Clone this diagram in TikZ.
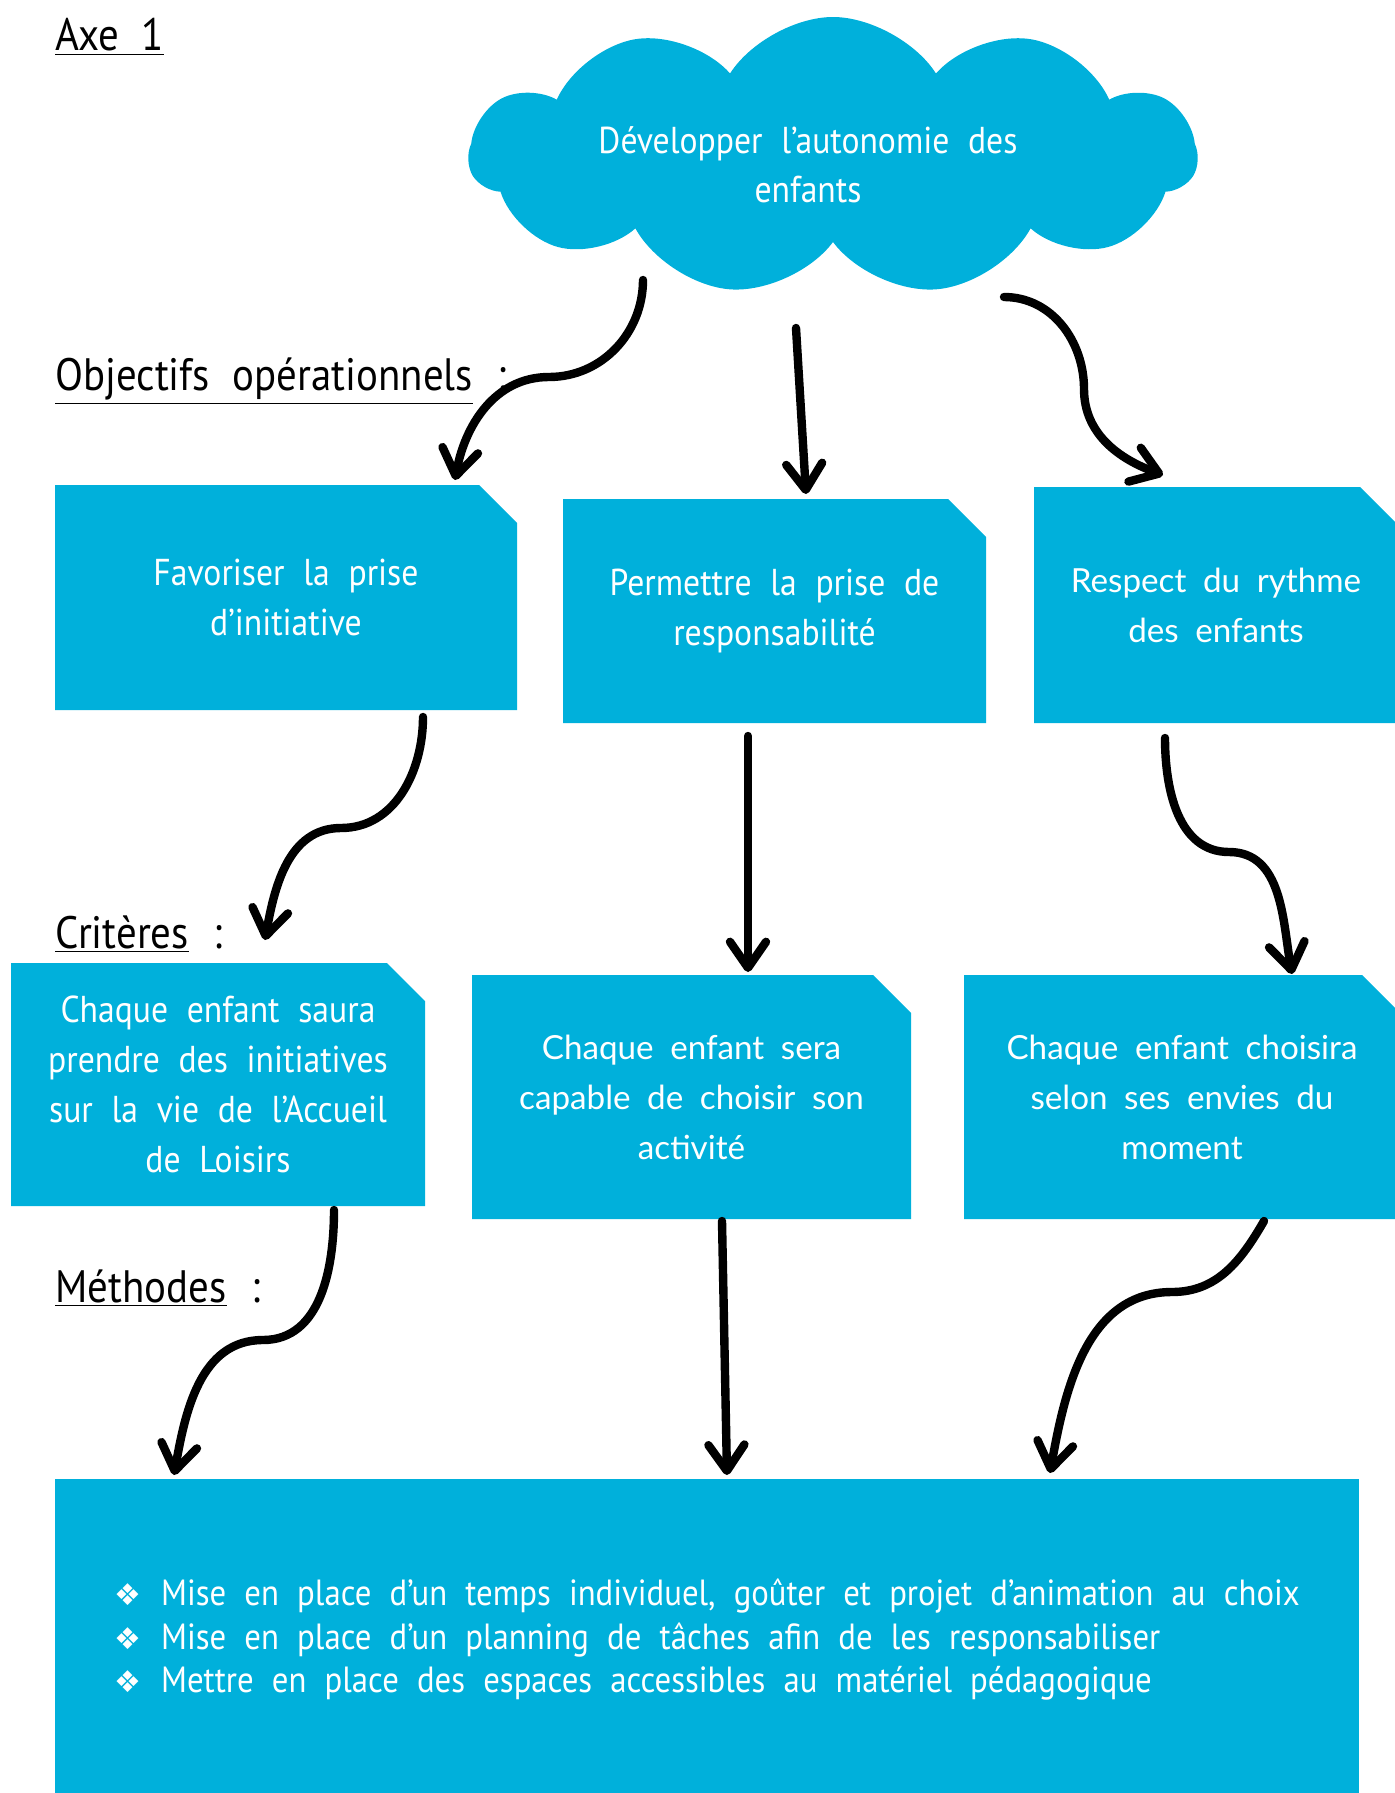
\documentclass[tikz,border=0pt]{standalone}
\usepackage{fontspec}
\setmainfont{PT Sans}
\newfontfamily\etroit{PT Sans}[FakeStretch=0.9]
\newfontfamily\ample{Lato}
\newfontfamily\symboles{DejaVu Sans}
\usepackage{xcolor}
\usepackage{tikz}
\usetikzlibrary{shapes,arrows.meta,positioning,calc}
\definecolor{bleuaxe}{RGB}{0,176,219}
\newcommand\mots{\spaceskip=.5em plus .1em\relax}
\newcommand\puce{{\symboles\fontsize{15}{15}\selectfont ❖}\hspace{10pt}}

\tikzset{
  fleche/.style={line width=4.2pt, line cap=round,
    -{Straight Barb[round,length=13pt,width=18pt]}},
  titre/.style={anchor=west, inner sep=0pt,
    font=\etroit\fontsize{22.7}{27}\selectfont\mots},
  texte/.style={text=white, align=center, inner sep=0pt, outer sep=0pt},
  boite/.style={texte, rectangle,
    font=\etroit\fontsize{18.7}{25}\selectfont\mots,
    path picture={\fill[bleuaxe] (path picture bounding box.south west)
      -- (path picture bounding box.south east)
      -- ([yshift=-19pt]path picture bounding box.north east)
      -- ([xshift=-19pt]path picture bounding box.north east)
      -- (path picture bounding box.north west) -- cycle;}},
  boitelarge/.style={boite, font=\ample\fontsize{16.6}{25}\selectfont\mots},
  nuage/.style={shape=cloud, cloud puffs=11, cloud puff arc=115,
    aspect=2.6, fill=bleuaxe, minimum width=364pt, minimum height=139pt}
}

\begin{document}
\begin{tikzpicture}[x=0.5pt,y=0.5pt]
\useasboundingbox (0,0) rectangle (1394,-1793);
% Titres
\node[titre] (axe) at (55,-37) {\underline{Axe 1}};
\node[titre] (objectifs) at (55,-381) {\underline{Objectifs opérationnels}\hspace{.55em}:};
\node[titre] (criteres) at (55,-934) {\underline{Critères}\hspace{.55em}:};
\node[titre] (methodestitre) at (55,-1288) {\underline{Méthodes}\hspace{.55em}:};
% Objectif general
\node[nuage] (axeun) at (833,-156) {};
\node[texte, font=\etroit\fontsize{18.7}{24.5}\selectfont\mots] (axeuntexte)
  at ($(axeun.center)+(-25,-9)$) {Développer l’autonomie des\\enfants};
% Objectifs operationnels
\node[boite, minimum width=231pt, minimum height=112.5pt] (fav) at (286,-597.5)
  {Favoriser la prise\\d’initiative};
\node[boite, minimum width=211.5pt, minimum height=112pt] (resp) at (774.5,-611)
  {Permettre la prise de\\responsabilité};
\node[boitelarge, minimum width=182pt, minimum height=118pt] (rythme) at (1216,-605)
  {Respect du rythme\\des enfants};
% Criteres
\node[boite, minimum width=207pt, minimum height=121.5pt] (saura) at (218,-1084.5)
  {Chaque enfant saura\\prendre des initiatives\\sur la vie de l’Accueil\\de Loisirs};
\node[boitelarge, minimum width=219.5pt, minimum height=122pt] (sera) at (691.5,-1097)
  {Chaque enfant sera\\capable de choisir son\\activité};
\node[boitelarge, minimum width=218pt, minimum height=122pt] (choix) at (1182,-1097)
  {Chaque enfant choisira\\selon ses envies du\\moment};
% Methodes
\node[texte, rectangle, fill=bleuaxe, minimum width=652pt, minimum height=161pt,
  align=left, font=\etroit\fontsize{18.2}{21.75}\selectfont\mots] (methodes) at (707,-1640)
  {\puce Mise en place d’un temps individuel, goûter et projet d’animation au choix\\
   \puce Mise en place d’un planning de tâches afin de les responsabiliser\\
   \puce Mettre en place des espaces accessibles au matériel pédagogique};
% Fleches
\draw[fleche] ($(axeun.center)+(-190,-124)$) to[out=-90,in=0] (549,-377)
  to[out=180,in=80] ($(fav.north)+(169,5)$);
\draw[fleche] ($(axeun.center)+(-37,-172)$) -- ($(resp.north)+(31.5,5)$);
\draw[fleche] ($(axeun.center)+(171,-141)$) to[out=0,in=90] (1084,-389)
  to[out=-90,in=160] ($(rythme.north west)+(129,12)$);
\draw[fleche] ($(fav.south)+(137,-7)$) to[out=-90,in=0] (341,-828)
  to[out=180,in=80] ($(saura.north)+(47,23)$);
\draw[fleche] ($(resp.south)+(-26.5,-13)$) -- ($(sera.north)+(56.5,3)$);
\draw[fleche] ($(rythme.south)+(-51,-15)$) to[out=-90,in=180] (1229,-852)
  to[out=0,in=100] ($(choix.north)+(110,1)$);
\draw[fleche] ($(saura.south)+(116,-4)$) to[out=-90,in=0] (263,-1340)
  to[out=180,in=80] ($(methodes.north west)+(119,4)$);
\draw[fleche] ($(sera.south)+(30.5,-2)$) -- ($(methodes.north west)+(672,4)$);
\draw[fleche] ($(choix.south)+(82,-2)$) to[out=-120,in=0] (1172,-1292)
  to[out=180,in=80] ($(methodes.north west)+(995,6)$);
\end{tikzpicture}
\end{document}
